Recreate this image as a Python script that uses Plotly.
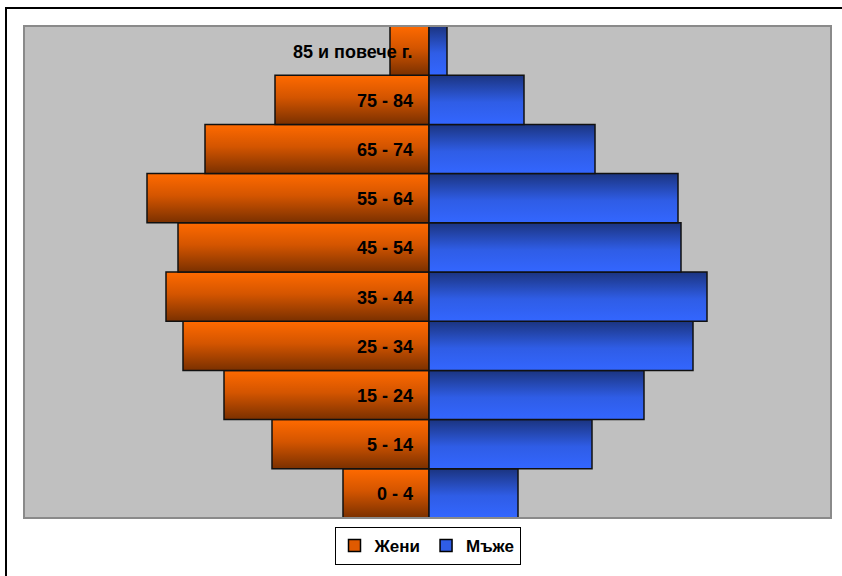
import plotly.graph_objects as go

age_groups = ["0 - 4", "5 - 14", "15 - 24", "25 - 34", "35 - 44",
              "45 - 54", "55 - 64", "65 - 74", "75 - 84", "85 и повече г."]
women = [8.6, 15.7, 20.5, 24.6, 26.3, 25.1, 28.2, 22.4, 15.4, 3.9]
men = [8.9, 16.3, 21.5, 26.4, 27.8, 25.2, 24.9, 16.6, 9.5, 1.8]
series_names = ["Жени", "Мъже"]

W_GRAD = [[0, "#7a3000"], [0.55, "#d45500"], [1, "#ff6a00"]]
M_GRAD = [[0, "#3366ff"], [0.45, "#2f5de6"], [1, "#1b3480"]]
LEGEND_COLORS = ["#e05a00", "#2f5de6"]

fig = go.Figure()

for s, (vals, sign, grad) in enumerate([(women, -1, W_GRAD), (men, 1, M_GRAD)]):
    for i, v in enumerate(vals):
        x0, x1 = 0, sign * v
        y0, y1 = i - 0.5, i + 0.5
        fig.add_trace(go.Scatter(
            x=[x0, x1, x1, x0, x0], y=[y0, y0, y1, y1, y0],
            mode="lines", fill="toself",
            fillgradient=dict(type="vertical", colorscale=grad),
            line=dict(color="#111111", width=1.5),
            name=series_names[s], legendgroup=series_names[s],
            showlegend=False, hoverinfo="skip",
        ))
    # legend entry with square symbol
    fig.add_trace(go.Bar(
        x=[None], y=[None], orientation="h", name=series_names[s],
        legendgroup=series_names[s], showlegend=True,
        marker=dict(color=LEGEND_COLORS[s], line=dict(color="black", width=1.5)),
    ))

for i, lab in enumerate(age_groups):
    fig.add_annotation(x=0, y=i, xref="x", yref="y", text=lab, showarrow=False,
                       xanchor="right", yanchor="middle", xshift=-14, yshift=-1,
                       font=dict(family="Arial", size=18, color="black", weight="bold"))

# plot area frame
fig.add_shape(type="rect", xref="paper", yref="paper", x0=0, x1=1, y0=0, y1=1,
              line=dict(color="#8a8a8a", width=2), layer="above")
# outer chart border (top and left visible)
fig.add_shape(type="rect", xref="paper", yref="paper",
              x0=-18 / 807, x1=1.1, y0=-0.2, y1=1 + 18 / 492,
              line=dict(color="black", width=2))

fig.update_layout(
    width=842, height=576,
    margin=dict(l=24, r=11, t=26, b=58),
    paper_bgcolor="white", plot_bgcolor="#c0c0c0",
    barmode="overlay",
    xaxis=dict(range=[-40.5, 40.2], showgrid=False, zeroline=False,
               showticklabels=False, ticks="", fixedrange=True),
    yaxis=dict(range=[-0.5, 9.5], showgrid=False, zeroline=False,
               showticklabels=False, ticks="", fixedrange=True),
    showlegend=True,
    legend=dict(orientation="h", x=0.5, xanchor="center", y=-0.057, yanchor="middle",
                bordercolor="black", borderwidth=1, bgcolor="white",
                font=dict(family="Arial", size=17, color="black", weight="bold"),
                itemwidth=30, tracegroupgap=0),
)

fig.write_html("out.html")
